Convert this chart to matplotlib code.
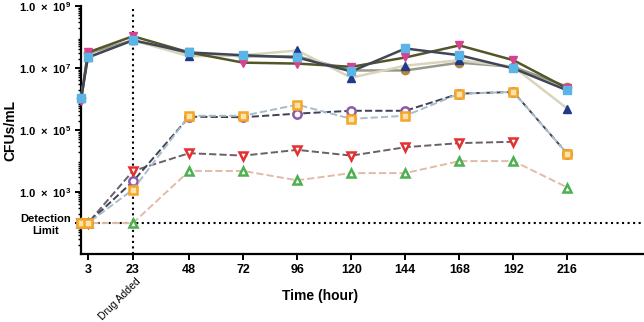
import numpy as np
import matplotlib
matplotlib.use("Agg")
import matplotlib.pyplot as plt
from matplotlib.ticker import FixedLocator, LogLocator, NullFormatter

plt.rcParams['font.family'] = ['Liberation Sans', 'DejaVu Sans']
plt.rcParams['mathtext.fontset'] = 'custom'
plt.rcParams['mathtext.rm'] = 'Liberation Sans'
plt.rcParams['mathtext.bf'] = 'Liberation Sans:bold'

# 시간 (hour)
hours = [0, 3, 23, 48, 72, 96, 120, 144, 168, 192, 216]

# 윗쪽 그룹 (실선)
pink = [9e5, 3.2e7, 1.07e8, 3.2e7, 1.5e7, 1.4e7, 1.1e7, 2.2e7, 5.4e7, 1.8e7, 2.2e6]
blue = [1.1e6, 2.2e7, 7.9e7, 3.2e7, 2.6e7, 2.2e7, 7.8e6, 4.3e7, 2.6e7, 9.8e6, 1.9e6]
navy = [1.1e6, 2.2e7, 7.9e7, 2.4e7, 2.6e7, 3.7e7, 4.9e6, 1.2e7, 1.8e7, 1.1e7, 4.9e5]
brown = [1.1e6, 3.0e7, 7.9e7, 3.0e7, 2.4e7, 2.4e7, 8.4e6, 8.4e6, 1.5e7, 1.1e7, 2.5e6]

# 아랫쪽 그룹 (점선)
orange = [100, 100, 1.2e3, 2.9e5, 2.9e5, 6.6e5, 2.3e5, 2.9e5, 1.5e6, 1.7e6, 1.7e4]
purple = [100, 100, 2.2e3, 2.7e5, 2.6e5, 3.4e5, 4.2e5, 4.2e5, 1.5e6, 1.7e6, 1.7e4]
red_h = hours[:10]
red = [100, 100, 4.8e3, 1.8e4, 1.5e4, 2.3e4, 1.5e4, 2.8e4, 3.8e4, 4.2e4]
green = [100, 100, 100, 4.8e3, 4.8e3, 2.4e3, 4.1e3, 4.1e3, 1.0e4, 1.0e4, 1.4e3]

xticks = [3, 23, 48, 72, 96, 120, 144, 168, 192, 216]
ytick_vals = [1e9, 1e7, 1e5, 1e3, 1e2]
ytick_labels = [r'$\mathbf{1.0\ \times\ 10^9}$', r'$\mathbf{1.0\ \times\ 10^7}$',
                r'$\mathbf{1.0\ \times\ 10^5}$', r'$\mathbf{1.0\ \times\ 10^3}$', 'Detection\nLimit']
detection = 100

fig = plt.figure(figsize=(6.44, 3.22), dpi=100)
ax = fig.add_axes([0.126, 0.211, 0.874, 0.77])

ms = 6
ax.plot(hours, brown, '-', color='#9a9a8a', lw=1.8, marker='o', ms=ms, mfc='#b8863b', mec='#b8863b', clip_on=False, zorder=3)
ax.plot(hours, navy, '-', color='#d8d5bc', lw=1.8, marker='^', ms=ms, mfc='#1f3a8a', mec='#1f3a8a', clip_on=False, zorder=3)
ax.plot(hours, pink, '-', color='#55552a', lw=1.8, marker='v', ms=ms, mfc='#d8418f', mec='#d8418f', clip_on=False, zorder=3)
ax.plot(hours, blue, '-', color='#3f4656', lw=1.8, marker='s', ms=ms, mfc='#5ab4e6', mec='#5ab4e6', clip_on=False, zorder=4)

ax.plot(hours, green, '--', color='#e2bba8', lw=1.4, marker='^', ms=ms, mfc='white', mec='#4caf50', mew=1.8, clip_on=False, zorder=3)
ax.plot(red_h, red, '--', color='#6b5f6b', lw=1.4, marker='v', ms=ms, mfc='white', mec='#e53030', mew=1.8, clip_on=False, zorder=3)
ax.plot(hours, purple, '--', color='#3f4250', lw=1.4, marker='o', ms=ms, mfc='white', mec='#8e5aa8', mew=1.8, clip_on=False, zorder=3)
ax.plot(hours, orange, '--', color='#a9bccc', lw=1.4, marker='s', ms=ms, mfc='#fbe3b0', mec='#f5a623', mew=1.8, clip_on=False, zorder=4)

# 검출한계, 약물 투여 시점
ax.axhline(detection, color='black', ls=':', lw=1.5, zorder=2)
ax.axvline(23, color='black', ls=':', lw=1.5, zorder=2)

ax.set_yscale('log')
ax.set_ylim(10, 1e9)
ax.set_xlim(0, 250)

ax.yaxis.set_major_locator(FixedLocator(ytick_vals))
ax.set_yticklabels(ytick_labels, fontweight='bold', fontsize=8)
ax.yaxis.set_minor_locator(LogLocator(base=10, subs=np.arange(2, 10), numticks=20))
ax.yaxis.set_minor_formatter(NullFormatter())
for lab in ax.get_yticklabels():
    lab.set_multialignment('center')

ax.set_xticks(xticks)
ax.set_xticklabels([str(t) for t in xticks], fontweight='bold', fontsize=9)

ax.spines['top'].set_visible(False)
ax.spines['right'].set_visible(False)
ax.spines['left'].set_linewidth(1.6)
ax.spines['bottom'].set_linewidth(1.6)
ax.tick_params(axis='both', which='major', width=1.4, length=4)
ax.tick_params(axis='y', which='minor', width=1.0, length=2.5)

ax.set_ylabel('CFUs/mL', fontweight='bold', fontsize=10)
ax.yaxis.set_label_coords(-0.113, 0.5)
ax.set_xlabel('Time (hour)', fontweight='bold', fontsize=10)
ax.xaxis.set_label_coords(0.425, -0.14)

ax.text(24, -0.088, 'Drug Added', transform=ax.get_xaxis_transform(), rotation=45,
        ha='right', va='top', fontsize=7.5, rotation_mode='anchor')

fig.savefig('out.png', dpi=100)
